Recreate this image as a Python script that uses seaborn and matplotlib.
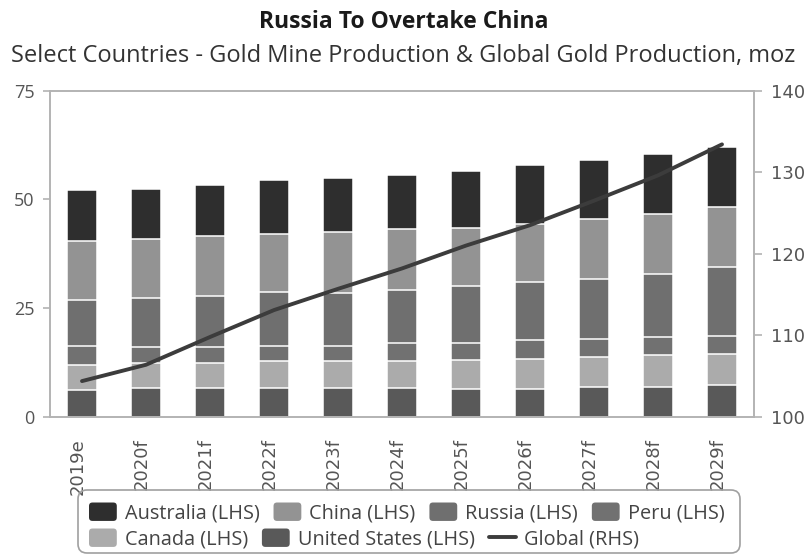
import numpy as np
import pandas as pd
import matplotlib
matplotlib.use("Agg")
import matplotlib.pyplot as plt
import matplotlib.transforms as mtransforms
import seaborn as sns
from matplotlib.patches import Patch, FancyBboxPatch
from matplotlib.lines import Line2D
from matplotlib.legend_handler import HandlerPatch

# Gold mine production by country (moz) and global gold production (moz)
years = ["2019e", "2020f", "2021f", "2022f", "2023f", "2024f",
         "2025f", "2026f", "2027f", "2028f", "2029f"]
united_states = [6.1, 6.6, 6.6, 6.6, 6.6, 6.6, 6.5, 6.5, 6.9, 6.9, 7.4]
canada = [5.8, 5.9, 5.9, 6.3, 6.3, 6.3, 6.7, 6.9, 6.9, 7.3, 7.1]
peru = [4.4, 3.5, 3.5, 3.4, 3.4, 4.0, 3.9, 4.2, 4.2, 4.2, 4.2]
russia = [10.5, 11.4, 11.8, 12.3, 12.1, 12.2, 13.0, 13.4, 13.7, 14.4, 15.8]
china = [13.6, 13.4, 13.7, 13.4, 14.0, 14.2, 13.4, 13.3, 13.8, 13.9, 13.8]
australia = [11.7, 11.6, 11.8, 12.4, 12.4, 12.2, 13.1, 13.6, 13.5, 13.8, 13.7]
global_production = [104.4, 106.4, 109.8, 113.1, 115.7, 118.2,
                     121.0, 123.5, 126.5, 129.6, 133.4]

left_ticks = [0, 25, 50, 75]
right_ticks = [100, 110, 120, 130, 140]

series = [
    ("United States (LHS)", united_states, "#595959"),
    ("Canada (LHS)", canada, "#ababab"),
    ("Peru (LHS)", peru, "#717171"),
    ("Russia (LHS)", russia, "#6f6f6f"),
    ("China (LHS)", china, "#939393"),
    ("Australia (LHS)", australia, "#2e2e2e"),
]
line_color = "#3c3c3c"
spine_color = "#b3b3b3"
tick_text = "#555555"

sns.set_style("white")
plt.rcParams["font.family"] = ["Open Sans", "DejaVu Sans"]

fig = plt.figure(figsize=(8.07, 5.56), dpi=100)
ax = fig.add_axes([50 / 807, 1 - 417 / 556, (754 - 50) / 807, (417 - 90.5) / 556])

# stacked bars: draw cumulative totals from the top segment down
df = pd.DataFrame({"year": years})
cum = np.zeros(len(years))
cum_cols = []
for name, vals, color in series:
    cum = cum + np.array(vals)
    df[name] = cum
    cum_cols.append((name, color))

for name, color in reversed(cum_cols):
    sns.barplot(data=df, x="year", y=name, color=color, saturation=1,
                width=0.47, edgecolor="white", linewidth=1.1,
                errorbar=None, ax=ax)

ax.set_ylim(0, 75)
ax.set_xlim(-0.5, len(years) - 0.5)
ax.set_xlabel("")
ax.set_ylabel("")

# global production on the secondary axis
ax2 = ax.twinx()
sns.lineplot(x=np.arange(len(years)), y=global_production, ax=ax2,
             color=line_color, linewidth=2.8)
ax2.set_ylim(100, 140)
ax2.set_xlim(-0.5, len(years) - 0.5)
ax2.set_ylabel("")

for a in (ax, ax2):
    for s in a.spines.values():
        s.set_color(spine_color)
        s.set_linewidth(1.2)
        s.set_visible(True)

# y ticks on both sides
ax.set_yticks(left_ticks, labels=[str(t) for t in left_ticks],
              fontsize=13, color=tick_text, fontfamily="Open Sans")
ax2.set_yticks(right_ticks, labels=[str(t) for t in right_ticks],
               fontsize=13, color=tick_text, fontfamily="DejaVu Sans")
ax.tick_params(axis="y", length=5, width=1.2, color=spine_color,
               direction="out", pad=6)
ax2.tick_params(axis="y", length=6, width=1.2, color=spine_color,
                direction="out", pad=6)
ax2.tick_params(axis="x", length=0)

# tick marks at category boundaries, labels at bar centres
ax.set_xticks(np.arange(len(years)), labels=years, rotation=90, fontsize=13,
              color=tick_text, fontfamily="DejaVu Sans", va="top", ha="center")
ax.set_xticks(np.arange(-0.5, len(years)), minor=True)
ax.tick_params(axis="x", which="major", length=0, pad=15)
ax.tick_params(axis="x", which="minor", length=7, width=1.2,
               color=spine_color, direction="out")
shift = mtransforms.ScaledTranslation(-4 / 100, 0, fig.dpi_scale_trans)
for lab in ax.get_xticklabels():
    lab.set_transform(lab.get_transform() + shift)

# titles
fig.text(0.5, 1 - 22 / 556, "Russia To Overtake China", ha="center",
         va="center", fontsize=16.5, fontweight="bold", color="#1a1a1a")
fig.text(0.5, 1 - 56 / 556,
         "Select Countries - Gold Mine Production & Global Gold Production, moz",
         ha="center", va="center", fontsize=17, color="#333333")


class RoundedSwatch(HandlerPatch):
    """Legend swatch drawn as a small rounded square."""

    def create_artists(self, legend, orig_handle, xdescent, ydescent,
                       width, height, fontsize, trans):
        box = FancyBboxPatch((-xdescent, -ydescent), width, height,
                             boxstyle="round,pad=0,rounding_size=2.5",
                             facecolor=orig_handle.get_facecolor(),
                             edgecolor="none", transform=trans)
        return [box]


# legend: two flowing rows inside one rounded frame
colors = {name: color for name, _, color in series}
row1 = ["Australia (LHS)", "China (LHS)", "Russia (LHS)", "Peru (LHS)"]
row2 = ["Canada (LHS)", "United States (LHS)"]

def patch(name):
    return Patch(facecolor=colors[name], edgecolor="none")

leg_kw = dict(frameon=False, fontsize=14.3, handlelength=1.4, handleheight=1.05,
              handletextpad=0.4, columnspacing=0.7, borderpad=0,
              borderaxespad=0, loc="center left", labelcolor="#444444",
              handler_map={Patch: RoundedSwatch()})
h1 = [patch(n) for n in row1]
fig.legend(h1, row1, ncol=len(row1),
           bbox_to_anchor=(89 / 807, 1 - 513 / 556), **leg_kw)
h2 = [patch(n) for n in row2] + [Line2D([], [], color=line_color, linewidth=2.8)]
labels2 = row2 + ["Global (RHS)"]
fig.legend(h2, labels2, ncol=len(labels2),
           bbox_to_anchor=(89 / 807, 1 - 539 / 556), **leg_kw)

frame = FancyBboxPatch((0.78, 0.03), 7.40 - 0.78, 0.66 - 0.03,
                       boxstyle="round,pad=0,rounding_size=0.09",
                       transform=fig.dpi_scale_trans, facecolor="none",
                       edgecolor="#a0a0a0", linewidth=1.2)
fig.add_artist(frame)

fig.savefig("out.png", dpi=100)
